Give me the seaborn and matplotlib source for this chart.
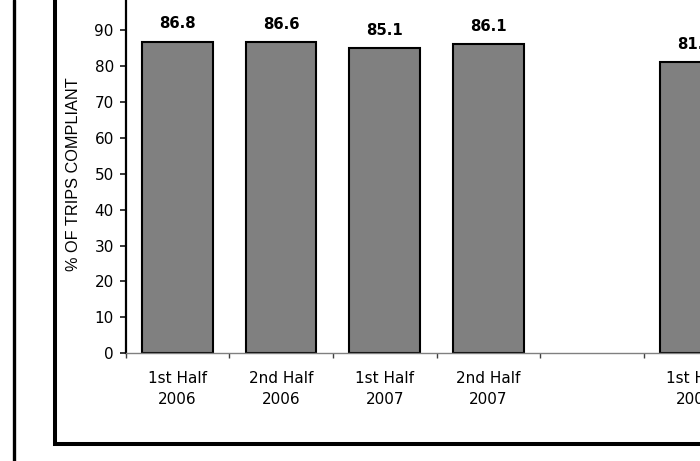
import numpy as np
import pandas as pd
import matplotlib
matplotlib.use("Agg")
import matplotlib.pyplot as plt
import seaborn as sns
from matplotlib.lines import Line2D
from matplotlib.ticker import FixedLocator

# Half-year compliance results
periods = ["1st Half\n2006", "2nd Half\n2006", "1st Half\n2007", "2nd Half\n2007", "1st Half\n2008"]
compliance = [86.8, 86.6, 85.1, 86.1, 81.0]

# Category slots along the x axis (the blank slot keeps an empty gap)
slot_order = ["1st Half\n2006", "2nd Half\n2006", "1st Half\n2007", "2nd Half\n2007", " ", "1st Half\n2008"]
y_ticks = list(range(0, 101, 10))
y_title = "% OF TRIPS COMPLIANT"

sns.set_style("white")
plt.rcParams["font.family"] = ["DejaVu Sans"]
plt.rcParams["text.color"] = "black"
plt.rcParams["axes.labelcolor"] = "black"
plt.rcParams["xtick.labelcolor"] = "black"
plt.rcParams["ytick.labelcolor"] = "black"

df = pd.DataFrame({"period": periods, "pct": compliance})

W, H = 700, 461
fig = plt.figure(figsize=(W / 100, H / 100), dpi=100)
fig.patch.set_facecolor("white")

# plot area runs past the right and top edges of the page
ax = fig.add_axes([125.7 / W, 107.7 / H, 621.6 / W, 359.2 / H])
sns.barplot(data=df, x="period", y="pct", order=slot_order, color="#808080",
            saturation=1, width=0.68, edgecolor="black", linewidth=1.5,
            errorbar=None, ax=ax)

ax.set_xlim(-0.5, len(slot_order) - 0.5)
ax.set_ylim(0, 100)
ax.set_yticks(y_ticks)
ax.set_xlabel("")
ax.set_ylabel(y_title, fontsize=11.7, family="Liberation Sans", va="center", color="black")
ax.yaxis.set_label_coords(-0.084, 0.5)

# value labels above each bar
for name, val in zip(periods, compliance):
    xpos = slot_order.index(name)
    ax.annotate(f"{val:.1f}", (xpos, val), xytext=(0, 9.4), textcoords="offset points",
                ha="center", va="baseline", fontsize=10.7, fontweight="bold",
                color="black", annotation_clip=False)

# spines
for side in ("top", "right"):
    ax.spines[side].set_visible(False)
ax.spines["left"].set_color("black")
ax.spines["left"].set_linewidth(1.6)
ax.spines["bottom"].set_color("#808080")
ax.spines["bottom"].set_linewidth(1.0)

# y ticks
ax.tick_params(axis="y", which="major", direction="out", length=4.3, width=1.1,
               color="black", labelcolor="black", pad=4.3, labelsize=11, left=True)

# x labels centred under bars, tick marks between categories
ax.xaxis.set_minor_locator(FixedLocator(np.arange(-0.5, len(slot_order), 1.0)))
ax.tick_params(axis="x", which="major", length=0, pad=13, labelsize=11,
               labelcolor="black", bottom=True)
ax.tick_params(axis="x", which="minor", direction="out", length=3.6, width=1.0,
               color="#404040", bottom=True)
for lbl in ax.get_xticklabels():
    lbl.set_linespacing(1.45)

# page frame lines
fig.add_artist(Line2D([13.7 / W, 13.7 / W], [0, 1], transform=fig.transFigure,
                      color="black", linewidth=2.4))
frame_x, frame_y = 55.2 / W, (H - 443.8) / H
fig.add_artist(Line2D([frame_x, frame_x, 1.0], [1.0, frame_y, frame_y],
                      transform=fig.transFigure, color="black", linewidth=2.9,
                      solid_joinstyle="miter"))

fig.savefig("out.png", dpi=100, facecolor="white")
